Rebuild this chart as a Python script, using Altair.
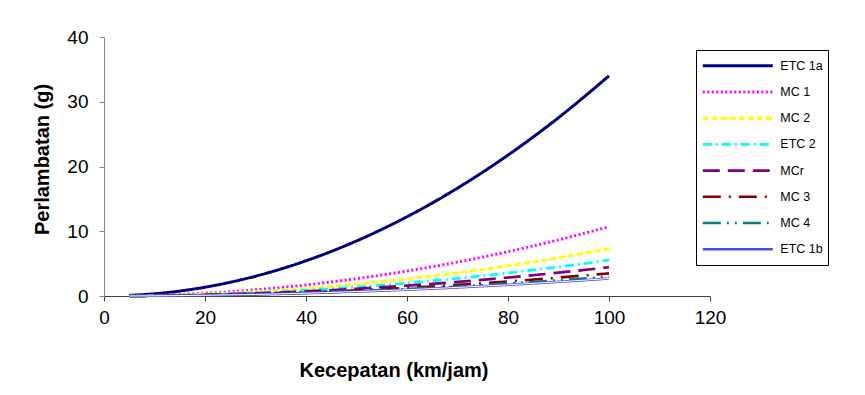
import altair as alt
import pandas as pd

# ---- data ----
speeds = [5, 10, 20, 30, 40, 50, 60, 70, 80, 90, 100]
series_names = ["ETC 1a", "MC 1", "MC 2", "ETC 2", "MCr", "MC 3", "MC 4", "ETC 1b"]

etc_1a = [0.09, 0.34, 1.36, 3.06, 5.44, 8.50, 12.24, 16.66, 21.76, 27.54, 34.0]
mc_1 = [0.03, 0.11, 0.43, 0.96, 1.71, 2.68, 3.85, 5.24, 6.85, 8.67, 10.7]
mc_2 = [0.02, 0.07, 0.29, 0.66, 1.17, 1.83, 2.63, 3.58, 4.67, 5.91, 7.3]
etc_2 = [0.01, 0.06, 0.22, 0.50, 0.89, 1.39, 2.00, 2.72, 3.55, 4.50, 5.55]
mc_r = [0.01, 0.04, 0.18, 0.40, 0.71, 1.11, 1.60, 2.18, 2.85, 3.60, 4.45]
mc_3 = [0.01, 0.035, 0.14, 0.32, 0.56, 0.88, 1.26, 1.72, 2.24, 2.84, 3.5]
mc_4 = [0.01, 0.03, 0.12, 0.27, 0.48, 0.75, 1.08, 1.47, 1.92, 2.43, 3.0]
etc_1b = [0.01, 0.03, 0.11, 0.24, 0.43, 0.68, 0.97, 1.32, 1.73, 2.19, 2.7]

series_values = [etc_1a, mc_1, mc_2, etc_2, mc_r, mc_3, mc_4, etc_1b]

x_ticks = [0, 20, 40, 60, 80, 100, 120]
y_ticks = [0, 10, 20, 30, 40]

# ---- styling ----
colors = ["#000080", "#FF00FF", "#FFFF00", "#00FFFF", "#800080", "#800000", "#008080", "#4B4BE6"]
dashes = [[1, 0], [2, 2.5], [6, 3], [9, 4, 2, 4], [17, 8], [18, 8, 2, 8], [18, 6, 2, 6, 2, 6], [1, 0]]
widths = [3, 2.5, 2.5, 2.5, 2.5, 2.5, 2.5, 3]

rows = []
for name, vals in zip(series_names, series_values):
    for order, (s, v) in enumerate(zip(speeds, vals)):
        rows.append({"series": name, "speed": s, "decel": v, "order": order})
df = pd.DataFrame(rows)

FONT = "Liberation Sans"

legend = alt.Legend(
    title=None,
    orient="none",
    legendX=592,
    legendY=13,
    strokeColor="#000000",
    fillColor="#FFFFFF",
    padding=5.3,
    symbolType="stroke",
    symbolSize=4900,
    symbolStrokeWidth=2.5,
    clipHeight=21,
    rowPadding=5.2,
    labelOffset=6,
    labelFont=FONT,
    labelFontSize=12.5,
    labelColor="#000000",
    labelLimit=200,
)

base = alt.Chart(df).encode(
    x=alt.X(
        "speed:Q",
        scale=alt.Scale(domain=[0, 120], nice=False, zero=True),
        axis=alt.Axis(
            values=x_ticks,
            title="Kecepatan (km/jam)",
            titleX=289.5,
            titleY=80,
            titleAlign="center",
            titleBaseline="alphabetic",
            domainColor="#404040",
            tickColor="#404040",
            tickSize=5,
            labelPadding=7,
            labelFlush=False,
            labelOverlap=False,
        ),
    ),
    y=alt.Y(
        "decel:Q",
        scale=alt.Scale(domain=[0, 40], nice=False),
        axis=alt.Axis(
            values=y_ticks,
            title="Perlambatan (g)",
            titleAngle=270,
            titleX=-56,
            titleY=122,
            titleAlign="center",
            titleBaseline="alphabetic",
            domainColor="#888888",
            tickColor="#888888",
            tickSize=5,
            labelPadding=11,
        ),
    ),
    order="order:Q",
)

lines = base.mark_line(interpolate="monotone").encode(
    color=alt.Color(
        "series:N",
        scale=alt.Scale(domain=series_names, range=colors),
        legend=legend,
    ),
    strokeDash=alt.StrokeDash(
        "series:N",
        scale=alt.Scale(domain=series_names, range=dashes),
        legend=legend,
    ),
    strokeWidth=alt.StrokeWidth(
        "series:N",
        scale=alt.Scale(domain=series_names, range=widths),
        legend=None,
    ),
)

center = base.transform_filter(alt.datum.series == "ETC 1b").mark_line(
    interpolate="monotone", color="#FFFFFF", strokeWidth=1
)

chart = (
    alt.layer(lines, center)
    .properties(
        width=606,
        height=259,
        padding={"left": 104, "top": 37, "right": 155, "bottom": 99},
        autosize=alt.AutoSizeParams(type="none"),
        background="#FFFFFF",
    )
    .configure_view(stroke=None)
    .configure_axis(
        grid=False,
        labelFont=FONT,
        labelFontSize=19,
        labelColor="#000000",
        titleFont=FONT,
        titleFontSize=20,
        titleFontWeight="bold",
        titleColor="#000000",
    )
)

chart.save("out.html", embed_options={"renderer": "svg", "actions": False})
